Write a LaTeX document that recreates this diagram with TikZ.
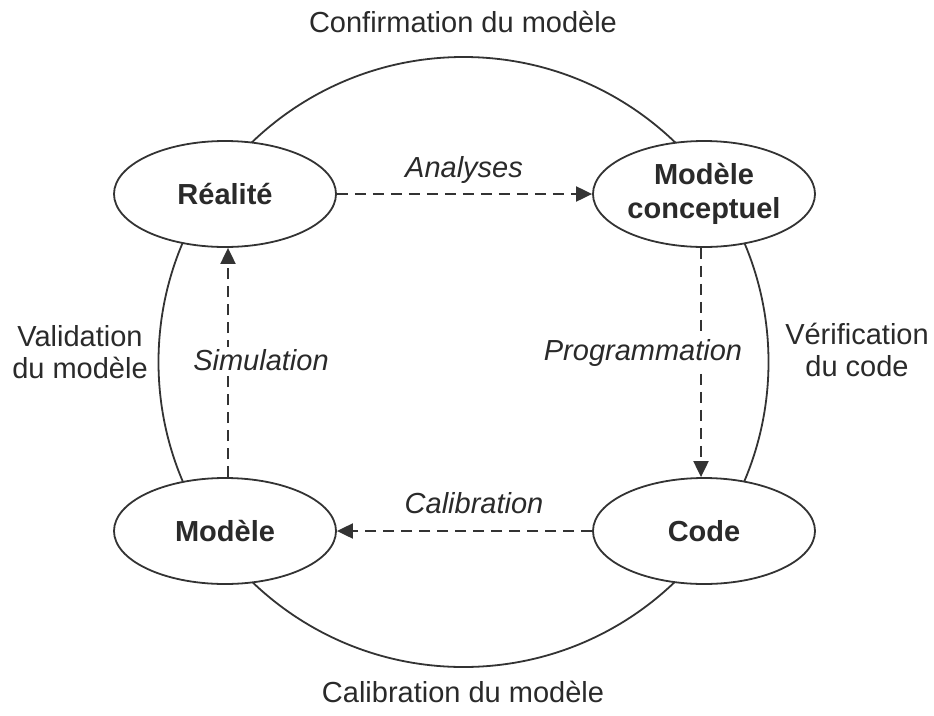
\documentclass[tikz,border=0pt]{standalone}
\usepackage{fontspec}
\setmainfont{Liberation Sans}
\usetikzlibrary{shapes.geometric,arrows.meta}
\definecolor{ink}{HTML}{333333}
\definecolor{txt}{HTML}{2A2A2A}
\begin{document}
\begin{tikzpicture}[x=1pt,y=-1pt,
  every node/.style={text=txt,font=\fontsize{29}{33}\selectfont},
  stage/.style={ellipse,draw=ink,line width=1.8pt,fill=white,inner sep=0pt,
    minimum width=222pt,minimum height=106pt,align=center,
    font=\fontsize{29}{34}\selectfont\bfseries},
  flow/.style={draw=ink,line width=2pt,dash pattern=on 11pt off 7pt,
    -{Triangle[length=16pt,width=15pt]}},
  flowlabel/.style={font=\fontsize{29}{33}\selectfont\itshape,inner sep=2pt},
  outer/.style={align=center,font=\fontsize{29}{32}\selectfont}]
\useasboundingbox (0,0) rectangle (934,715);
\fill[white] (0,0) rectangle (934,715);
\draw[ink,line width=1.8pt] (463.5,362) circle[radius=305pt];
\node[stage] (real) at (225,194) {Réalité};
\node[stage] (mc) at (704,194) {Modèle\\conceptuel};
\node[stage] (code) at (704,531) {Code};
\node[stage] (mod) at (225,531) {Modèle};
\draw[flow] (real.east) -- (mc.west);
\draw[flow] ([xshift=-3pt]mc.south) -- ([xshift=-3pt]code.north);
\draw[flow] (code.west) -- (mod.east);
\draw[flow] ([xshift=3pt]mod.north) -- ([xshift=3pt]real.south);
\node[flowlabel] (lana) at (464,170) {Analyses};
\node[flowlabel,fill=white] (lprog) at (643,353) {Programmation};
\node[flowlabel] (lcal) at (474,503) {Calibration};
\node[flowlabel,fill=white] (lsim) at (261,360) {Simulation};
\node[outer] (conf) at (463,22) {Confirmation du modèle};
\node[outer] (calm) at (463,692) {Calibration du modèle};
\node[outer] (valm) at (80,352) {Validation\\du modèle};
\node[outer] (verc) at (857,350) {Vérification\\du code};
\end{tikzpicture}
\end{document}
